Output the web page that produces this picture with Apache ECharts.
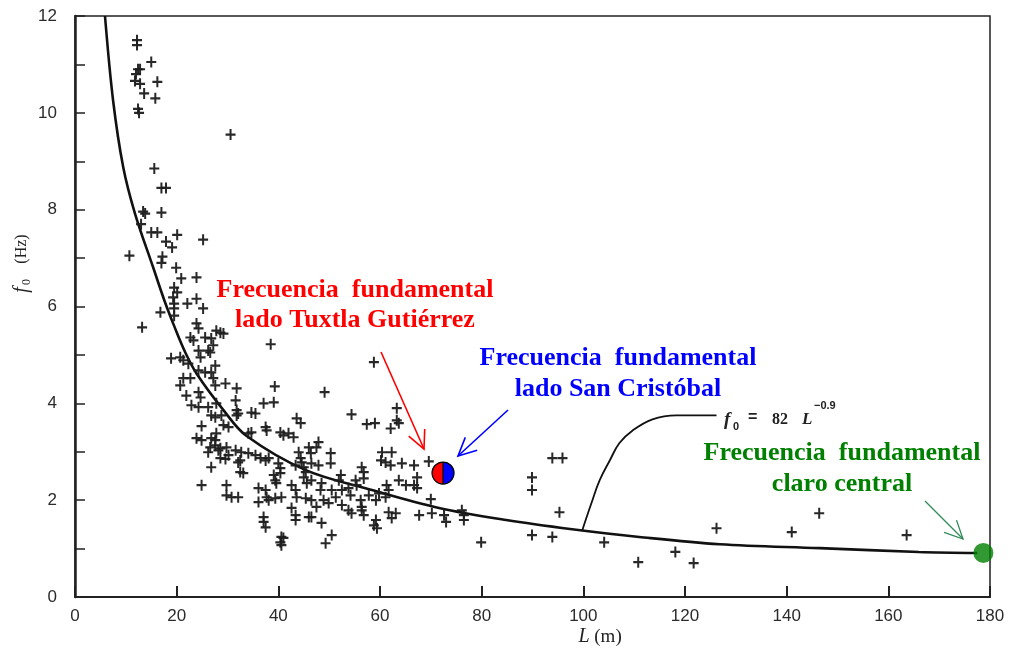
<!DOCTYPE html>
<html><head><meta charset="utf-8">
<script src="https://cdn.jsdelivr.net/npm/echarts@6/dist/echarts.min.js"></script>
<style>html,body{margin:0;padding:0;background:#fff}#c{width:1011px;height:651px}</style>
</head><body><div id="c"></div>
<script>
// Observed bridge cables: length L (m) and fundamental frequency f0 (Hz)
const obsL = [
12.2,12.2,15.0,12.4,12.8,12.0,11.8,12.8,16.2,13.6,15.8,12.4,12.6,30.6,15.6,17.0,17.9,13.4,13.8,17.0,
13.0,15.0,16.2,20.1,17.9,19.1,25.2,10.7,17.2,17.0,19.9,20.9,23.9,19.5,20.1,19.3,22.1,23.9,25.2,19.5,
19.5,19.5,16.8,13.2,23.9,24.3,22.7,25.6,26.8,28.6,29.2,
27.8,23.3,27.2,38.5,18.9,20.7,21.3,24.3,24.7,22.3,26.2,26.6,27.6,24.3,25.6,26.8,21.3,22.7,20.7,27.2,
27.6,29.6,31.8,39.3,21.9,24.3,24.7,31.6,26.2,24.3,37.1,39.1,
22.9,27.8,31.8,34.7,35.5,26.8,27.6,28.8,29.2,30.2,31.8,32.1,24.9,43.6,44.4,37.5,37.7,27.8,26.8,27.6,
23.9,24.9,34.1,34.7,40.4,41.0,42.0,43.0,26.6,27.6,28.6,29.8,26.2,28.2,31.6,32.7,34.1,30.2,35.5,36.5,
37.5,38.1,28.6,29.6,32.1,32.5,44.0,44.4,44.6,43.4,45.0,45.4,40.0,40.4,40.4,26.8,32.5,33.1,39.1,39.4,
39.6,24.9,29.8,36.1,37.5,37.7,36.1,38.1,39.4,40.6,29.8,30.8,32.1,42.6,43.4,43.6,45.4,42.6,43.4,43.4,
37.1,37.1,37.5,40.6,40.4,40.6,41.0,46.0,
54.4,59.0,57.4,62.1,63.3,63.7,47.9,47.5,50.3,46.0,46.4,60.4,62.3,60.2,61.1,62.1,64.3,66.7,69.6,50.3,
46.5,47.9,56.4,56.8,56.8,52.3,51.9,55.2,55.4,63.7,65.1,67.3,66.7,67.3,45.0,45.6,46.5,48.5,48.3,50.5,
51.3,52.5,61.3,61.7,53.8,54.2,56.2,56.4,57.8,59.2,59.8,61.1,46.5,47.5,48.9,49.9,52.5,53.8,54.4,56.4,
56.8,61.7,63.1,62.3,70.0,67.7,70.2,72.6,73.0,76.1,76.5,76.5,46.5,48.5,58.8,59.4,59.2,50.5,49.3,
49.1,58.8,63.3,
79.9,89.9,89.9,93.9,95.9,95.3,89.9,93.9,104.1,110.8,118.1,121.7,126.2,141.0,146.4,163.6
];
const obsF = [
11.5,11.4,11.05,10.9,10.9,10.8,10.66,10.6,10.64,10.4,10.3,10.08,10.0,9.55,8.85,8.45,8.45,7.96,7.92,7.94,
7.7,7.53,7.53,7.48,7.34,7.22,7.38,7.05,7.03,6.9,6.8,6.58,6.6,6.39,6.29,6.19,6.06,6.16,5.96,6.06,
5.96,5.81,5.88,5.57,5.65,5.55,5.36,5.36,5.34,5.46,5.44,
5.5,5.30,5.20,5.22,4.93,4.95,4.89,5.09,4.95,4.82,5.09,5.05,4.78,4.68,4.64,4.64,4.52,4.52,4.37,4.52,
4.37,4.41,4.31,4.35,4.16,4.23,4.12,4.06,3.92,3.92,4.0,4.02,
3.96,4.0,3.86,3.81,3.79,3.75,3.71,3.75,3.55,3.51,3.75,3.79,3.53,3.69,3.59,3.51,3.44,3.38,3.28,3.24,
3.28,3.24,3.38,3.40,3.40,3.34,3.38,3.30,3.09,3.13,3.07,3.09,2.99,3.03,3.03,2.99,2.97,2.93,2.93,2.87,
2.82,2.87,2.87,2.85,2.78,2.82,2.99,2.87,2.78,2.72,2.68,2.58,2.76,2.66,2.56,2.68,2.58,2.56,2.52,2.41,
2.35,2.31,2.31,2.25,2.21,2.06,1.96,2.0,2.04,2.06,2.10,2.06,2.06,2.31,2.21,2.06,2.04,1.84,1.69,1.59,
1.65,1.55,1.44,1.24,1.13,1.07,1.22,1.65,
3.77,3.59,3.57,3.48,3.65,3.59,3.20,3.09,2.97,3.09,2.97,2.99,2.99,2.82,2.78,2.72,2.76,2.72,2.80,2.76,
2.76,2.72,2.68,2.58,2.45,2.52,2.41,2.41,2.31,2.41,2.31,2.47,2.31,2.25,2.47,2.35,2.41,2.35,2.21,2.21,
2.06,2.21,2.31,2.21,2.25,2.10,2.0,1.86,2.10,2.0,2.14,2.06,2.0,1.86,2.0,1.94,1.90,1.79,1.73,1.79,
1.69,1.75,1.73,1.63,2.02,1.69,1.73,1.69,1.55,1.79,1.69,1.59,1.65,1.53,1.48,1.42,1.59,1.28,1.11,
4.23,4.85,3.90,
1.13,2.47,2.21,2.87,2.87,1.75,1.28,1.24,1.13,0.72,0.93,0.70,1.42,1.34,1.73,1.28
];
// fitted curve f0 = 82 L^-0.9 as drawn
const curveL = [5.9,7.5,9.5,11.8,15.4,17.6,19.5,21.7,24.0,29.2,33.7,45.4,58.4,71.6,84.8,97.8,111,126.8,146.5,166,177.5];
const curveF = [12.0,10.25,8.87,7.92,6.8,6.12,5.6,5.05,4.6,3.86,3.33,2.62,2.21,1.84,1.59,1.40,1.24,1.09,1.01,0.93,0.91];
// leader line from curve to the formula label
const leaderL = [99.8,101.6,103.2,105.2,107.1,109.7,113.6,118.3,126.2];
const leaderF = [1.38,1.94,2.41,2.82,3.18,3.44,3.67,3.75,3.75];
// measured bridge frequencies
const bridgeSides = [[72.4, 2.56]];     // lado Tuxtla / lado San Cristóbal
const centralSpan = [[178.7, 0.91]];    // claro central

const xMin = 0, xMax = 180, xStep = 20;
const yMin = 0, yMax = 12, yStep = 1;

const chart = echarts.init(document.getElementById('c'), null, {renderer: 'canvas'});
const obs = obsL.map((l, i) => [l, obsF[i]]);
const curve = curveL.map((l, i) => [l, curveF[i]]);
const leader = leaderL.map((l, i) => [l, leaderF[i]]);

const axisCol = '#222';
const labelFont = {color: '#2b2b2b', fontSize: 17, fontFamily: 'Liberation Sans'};

function arrow(tail, tip, color, width) {
  const dx = tip[0] - tail[0], dy = tip[1] - tail[1];
  const len = Math.hypot(dx, dy), ux = dx / len, uy = dy / len;
  const hl = 20, ha = 26 * Math.PI / 180;
  const bx = -ux, by = -uy;
  const a1 = [tip[0] + hl * (bx * Math.cos(ha) - by * Math.sin(ha)), tip[1] + hl * (bx * Math.sin(ha) + by * Math.cos(ha))];
  const a2 = [tip[0] + hl * (bx * Math.cos(-ha) - by * Math.sin(-ha)), tip[1] + hl * (bx * Math.sin(-ha) + by * Math.cos(-ha))];
  return [
    {type: 'polyline', shape: {points: [tail, tip]}, style: {stroke: color, lineWidth: width, fill: null}, z: 100},
    {type: 'polyline', shape: {points: [a1, tip, a2]}, style: {stroke: color, lineWidth: width, fill: null}, z: 100}
  ];
}
function txt(x, y, text, color, font, align) {
  return {type: 'text', x: x, y: y, z: 100,
    style: {text: text, fill: color, font: font, textAlign: align || 'center', textVerticalAlign: 'middle', align: align || 'center', verticalAlign: 'middle'}};
}
const annFont = 'bold 26px "Liberation Serif"';

chart.setOption({
  animation: false,
  backgroundColor: '#fff',
  grid: {left: 75, right: 21, top: 16, bottom: 54, show: true, borderColor: axisCol, borderWidth: 1.5, backgroundColor: 'transparent'},
  xAxis: {
    type: 'value', min: xMin, max: xMax, interval: xStep,
    axisLine: {show: true, onZero: false, lineStyle: {color: axisCol, width: 2}},
    axisTick: {show: true, inside: true, length: 11, lineStyle: {color: axisCol, width: 2}},
    axisLabel: Object.assign({margin: 11}, labelFont),
    splitLine: {show: false}
  },
  yAxis: {
    type: 'value', min: yMin, max: yMax, interval: yStep,
    axisLine: {show: true, onZero: false, lineStyle: {color: axisCol, width: 2.5}},
    axisTick: {show: true, inside: true, length: 10, lineStyle: {color: axisCol, width: 1.5}},
    axisLabel: Object.assign({margin: 18, formatter: v => (v % 2 === 0 ? String(v) : '')}, labelFont),
    splitLine: {show: false}
  },
  series: [
    {type: 'line', data: curve, smooth: 0.35, showSymbol: false, symbol: 'none',
      lineStyle: {color: '#111', width: 2.6}, silent: true, z: 3},
    {type: 'line', data: leader, smooth: 0.4, showSymbol: false, symbol: 'none',
      lineStyle: {color: '#111', width: 1.8}, silent: true, z: 3},
    {type: 'scatter', data: obs, symbol: 'path://M4,0H6V4H10V6H6V10H4V6H0V4H4Z', symbolSize: [10, 11],
      itemStyle: {color: '#1c1c1c', opacity: 0.95}, z: 4},
    {type: 'custom', data: bridgeSides, z: 10,
      renderItem: function (params, api) {
        const p = api.coord([api.value(0), api.value(1)]);
        const r = 11, cx = p[0], cy = p[1];
        return {type: 'group', children: [
          {type: 'sector', shape: {cx: cx, cy: cy, r: r, r0: 0, startAngle: Math.PI / 2, endAngle: Math.PI * 1.5, clockwise: true}, style: {fill: '#ff0000'}},
          {type: 'sector', shape: {cx: cx, cy: cy, r: r, r0: 0, startAngle: -Math.PI / 2, endAngle: Math.PI / 2, clockwise: true}, style: {fill: '#0000ff'}},
          {type: 'circle', shape: {cx: cx, cy: cy, r: r}, style: {fill: null, stroke: '#000', lineWidth: 1.2}},
          {type: 'line', shape: {x1: cx, y1: cy - r, x2: cx, y2: cy + r}, style: {stroke: '#000', lineWidth: 1.2}}
        ]};
      }},
    {type: 'scatter', data: centralSpan, symbol: 'circle', symbolSize: 20, clip: false,
      itemStyle: {color: '#008000'}, z: 10}
  ]
});

const g = [];
// y axis name, rotated: f0 (Hz)
g.push({type: 'group', x: 22, y: 266, rotation: Math.PI / 2, z: 100, children: [
  txt(-24, 0, 'f', '#222', 'italic 20px "Liberation Serif"'),
  txt(-16, 5, '0', '#222', '12px "Liberation Serif"'),
  txt(17, 0, '(Hz)', '#222', '16px "Liberation Serif"')
]});
// x axis name: L (m)
g.push(txt(584, 637, 'L', '#222', 'italic 20px "Liberation Serif"'));
g.push(txt(608, 637, '(m)', '#222', '19px "Liberation Serif"'));
// formula label f0 = 82 L^-0.9
g.push(txt(724, 420, 'f', '#222', 'italic bold 19px "Liberation Serif"', 'left'));
g.push(txt(733, 427, '0', '#222', 'bold 11px "Liberation Sans"', 'left'));
g.push(txt(748, 418, '=', '#222', 'bold 16px "Liberation Sans"', 'left'));
g.push(txt(772, 420, '82', '#222', 'bold 16px "Liberation Serif"', 'left'));
g.push(txt(802, 420, 'L', '#222', 'italic bold 17px "Liberation Serif"', 'left'));
g.push(txt(814, 406, '−0.9', '#222', 'bold 11px "Liberation Sans"', 'left'));
// annotation texts
g.push(txt(355, 290, 'Frecuencia  fundamental', '#ff0000', annFont));
g.push(txt(355, 320, 'lado Tuxtla Gutiérrez', '#ff0000', annFont));
g.push(txt(618, 358, 'Frecuencia  fundamental', '#0000ff', annFont));
g.push(txt(618, 389, 'lado San Cristóbal', '#0000ff', annFont));
g.push(txt(842, 453, 'Frecuencia  fundamental', '#008000', annFont));
g.push(txt(842, 484, 'claro central', '#008000', annFont));
// arrows
arrow([381, 352], [424, 449], '#ff0000', 1.6).forEach(e => g.push(e));
arrow([508, 410], [458, 456], '#0000ff', 1.6).forEach(e => g.push(e));
arrow([925, 501], [963, 539], '#2e8b57', 1.3).forEach(e => g.push(e));
chart.setOption({graphic: {elements: g}});
</script>
</body></html>
